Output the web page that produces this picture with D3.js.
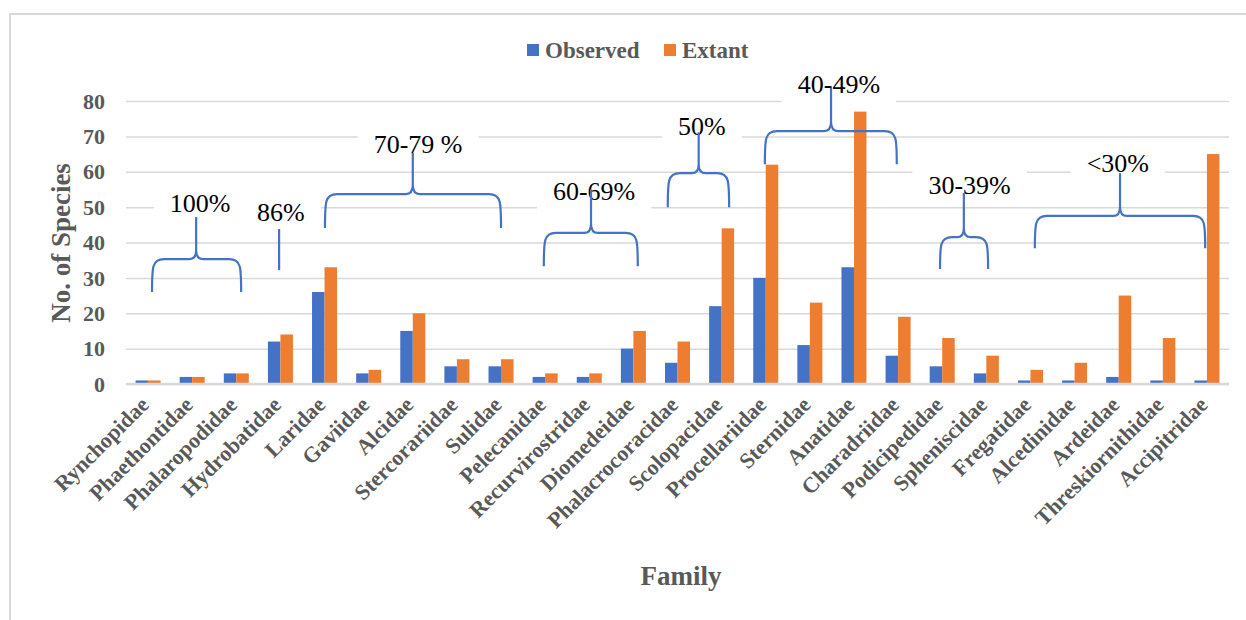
<!DOCTYPE html>
<html>
  <head>
    <meta charset="UTF-8"/>
    <script src="https://d3js.org/d3.v7.min.js"></script>
    <style>
      body { margin: 0; background: #fff; }
      svg { display: block; }
      .tickLabel, .axisTitle, .legendText { font-family: "Liberation Serif", "Times New Roman", serif; font-weight: bold; fill: #595959; }
    </style>
  </head>
  <body>
    <script>
      // data
      const families = ['Rynchopidae','Phaethontidae','Phalaropodidae','Hydrobatidae','Laridae','Gaviidae','Alcidae',
        'Stercorariidae','Sulidae','Pelecanidae','Recurvirostridae','Diomedeidae','Phalacrocoracidae','Scolopacidae',
        'Procellariidae','Sternidae','Anatidae','Charadriidae','Podicipedidae','Spheniscidae','Fregatidae',
        'Alcedinidae','Ardeidae','Threskiornithidae','Accipitridae'];
      const observed = [1,2,3,12,26,3,15,5,5,2,2,10,6,22,30,11,33,8,5,3,1,1,2,1,1];
      const extant   = [1,2,3,14,33,4,20,7,7,3,3,15,12,44,62,23,77,19,13,8,4,6,25,13,65];
      const yTicks = [0,10,20,30,40,50,60,70,80];
      const seriesNames = ['Observed','Extant'];

      // percentage brackets: ends/middle in category units, heights in species units
      const groups = [
        {label:'100%',   a:0.59,  b:2.61,  m:1.59,  yb:26.0, yh:35.3, yt:47.2, tx:1.68,  ty:48.6},
        {label:'86%',    a:3.47,  b:3.47,  m:3.47,  yb:32.2, yh:32.2, yt:43.8, tx:3.51,  ty:46.1, line:true},
        {label:'70-79 %',a:4.51,  b:8.50,  m:6.50,  yb:44.1, yh:53.7, yt:65.3, tx:6.62,  ty:65.3},
        {label:'60-69%', a:9.47,  b:11.6,  m:10.54, yb:33.3, yh:42.7, yt:55.0, tx:10.61, ty:52.0},
        {label:'50%',    a:12.28, b:13.67, m:12.98, yb:50.0, yh:59.6, yt:71.2, tx:13.05, ty:70.4},
        {label:'40-49%', a:14.48, b:17.47, m:15.98, yb:62.1, yh:71.5, yt:83.7, tx:16.16, ty:82.3},
        {label:'30-39%', a:18.45, b:19.54, m:18.99, yb:32.5, yh:41.5, yt:54.0, tx:19.12, ty:53.7},
        {label:'<30%',   a:20.6,  b:24.46, m:22.53, yb:38.4, yh:47.5, yt:59.6, tx:22.48, ty:59.9}
      ];

      const width = 1246, height = 620;
      const plotL = 126, plotR = 1229, plotT = 101, plotB = 384;
      const colors = ['#4472c4', '#ed7d31'];
      const serif = '"Liberation Serif", "DejaVu Serif", "Times New Roman", serif';

      const svg = d3.select('body').append('svg')
        .attr('width', width).attr('height', height);

      // outer frame (left + top edges visible)
      svg.append('path')
        .attr('d', `M10,${height} L10,14 L${width},14`)
        .attr('fill', 'none').attr('stroke', '#d9d9d9').attr('stroke-width', 2);

      const x = d3.scaleBand().domain(families).range([plotL, plotR])
        .paddingInner(0.433).paddingOuter(0.2167);
      const xs = d3.scaleBand().domain(seriesNames).range([0, x.bandwidth()]);
      const xi = d3.scaleLinear().domain([0, families.length]).range([plotL, plotR]);
      const y = d3.scaleLinear().domain([0, 80]).range([plotB, plotT]);

      // gridlines
      const yAxis = d3.axisLeft(y).tickValues(yTicks).tickSize(-(plotR - plotL)).tickFormat('');
      const ga = svg.append('g').attr('transform', `translate(${plotL},0)`).call(yAxis);
      ga.select('.domain').remove();
      ga.selectAll('.tick line').attr('stroke', '#d9d9d9').attr('stroke-width', 1.5);

      // y tick labels
      svg.selectAll('.tickLabel.y').data(yTicks).join('text')
        .attr('class', 'tickLabel y')
        .attr('x', plotL - 21).attr('y', d => y(d)).attr('dy', '0.35em')
        .attr('text-anchor', 'end').style('font-size', '22px')
        .text(d => d);

      // bars
      const rows = families.map((f, i) => ({f, vals: [observed[i], extant[i]]}));
      const grp = svg.append('g').selectAll('g').data(rows).join('g')
        .attr('transform', d => `translate(${x(d.f)},0)`);
      grp.selectAll('rect').data(d => d.vals.map((v, k) => ({k, v}))).join('rect')
        .attr('x', d => xs(seriesNames[d.k]))
        .attr('width', xs.bandwidth())
        .attr('y', d => y(d.v))
        .attr('height', d => y(0) - y(d.v))
        .attr('fill', d => colors[d.k]);

      // baseline
      svg.append('line')
        .attr('x1', plotL).attr('x2', plotR).attr('y1', y(0)).attr('y2', y(0))
        .attr('stroke', '#d9d9d9').attr('stroke-width', 2.5);

      // x labels
      svg.selectAll('.tickLabel.x').data(families).join('text')
        .attr('class', 'tickLabel x')
        .attr('transform', d => `translate(${x(d) + x.bandwidth() / 2 + 2},${plotB + 22}) rotate(-45)`)
        .attr('text-anchor', 'end').style('font-size', '22px')
        .text(d => d);

      // axis titles
      svg.append('text').attr('class', 'axisTitle')
        .attr('transform', `translate(70,243) rotate(-90)`)
        .attr('text-anchor', 'middle').style('font-size', '27px')
        .text('No. of Species');
      svg.append('text').attr('class', 'axisTitle')
        .attr('x', 681).attr('y', 585)
        .attr('text-anchor', 'middle').style('font-size', '27px')
        .text('Family');

      // legend
      const legX = [527, 664];
      seriesNames.forEach((s, k) => {
        svg.append('rect').attr('x', legX[k]).attr('y', 44).attr('width', 12).attr('height', 12)
          .attr('fill', colors[k]);
        svg.append('text').attr('class', 'legendText')
          .attr('x', legX[k] + 18).attr('y', 58).style('font-size', '23px')
          .text(s);
      });

      // annotation text boxes (white) and labels
      const notes = svg.append('g');
      groups.forEach(g => {
        const t = notes.append('text')
          .attr('x', xi(g.tx)).attr('y', y(g.ty)).attr('text-anchor', 'middle')
          .style('font-family', serif).style('font-weight', 'normal')
          .style('font-size', '26px').style('fill', '#000')
          .text(g.label);
        const bb = t.node().getBBox();
        notes.insert('rect', 'text')
          .attr('x', bb.x - 16).attr('y', bb.y)
          .attr('width', bb.width + 32).attr('height', bb.height + 6)
          .attr('fill', '#fff');
      });

      // braces
      const brace = g => {
        if (g.line) return `M${xi(g.m)},${y(g.yb)} L${xi(g.m)},${y(g.yt)}`;
        const xa = xi(g.a), xb = xi(g.b), xm = xi(g.m);
        const yb = y(g.yb), yh = y(g.yh), yt = y(g.yt);
        const r = 10;
        return `M${xa},${yb} C${xa},${yh + 8} ${xa},${yh} ${xa + r + 2},${yh} L${xm - 7},${yh} Q${xm},${yh} ${xm},${yh - 9} L${xm},${yt}` +
               ` M${xb},${yb} C${xb},${yh + 8} ${xb},${yh} ${xb - r - 2},${yh} L${xm + 7},${yh} Q${xm},${yh} ${xm},${yh - 9}`;
      };
      svg.append('g').selectAll('path').data(groups).join('path')
        .attr('d', brace)
        .attr('fill', 'none').attr('stroke', '#4472c4').attr('stroke-width', 2.2);
    </script>
  </body>
</html>
